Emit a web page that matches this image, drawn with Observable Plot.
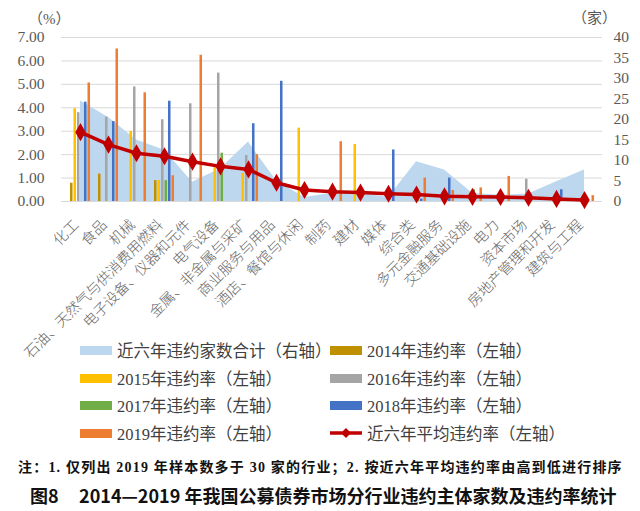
<!DOCTYPE html>
<html><head><meta charset="utf-8">
<script src="https://cdn.jsdelivr.net/npm/d3@7"></script>
<script src="https://cdn.jsdelivr.net/npm/@observablehq/plot@0.6"></script>
<style>
body{margin:0;background:#fff;}
#wrap{position:relative;width:640px;height:511px;overflow:hidden;font-family:"Liberation Serif","Noto Sans CJK SC",serif;}
#chart{position:absolute;left:0;top:0;}
.unit{position:absolute;font-size:15px;color:#595959;}
.lg{position:absolute;display:flex;align-items:center;font-size:16.5px;color:#404040;white-space:nowrap;height:20px;}
.sw{width:32px;height:9px;margin-right:5px;flex:none;}
.swl{width:32px;height:12px;margin-right:5px;flex:none;position:relative;}
.note{position:absolute;left:18px;top:456px;font-size:14px;letter-spacing:1.2px;font-weight:bold;color:#111;white-space:nowrap;}
.title{position:absolute;left:30px;top:482px;font-size:18px;font-weight:bold;color:#111;white-space:nowrap;font-family:"Noto Sans CJK SC","Liberation Sans",sans-serif;}
</style>
</head><body>
<div id="wrap">
<div id="chart"></div>
<div class="unit" style="left:28px;top:7px;">（%）</div>
<div class="unit" style="left:572px;top:6px;">（家）</div>
<div id="legend"></div>
<div class="note">注：1. 仅列出 2019 年样本数多于 30 家的行业；2. 按近六年平均违约率由高到低进行排序</div>
<div class="title">图8&nbsp;&nbsp;&nbsp;&nbsp;&nbsp;2014—2019 年我国公募债券市场分行业违约主体家数及违约率统计</div>
</div>
<script>
const categories = ["化工","食品","机械","石油、天然气与供消费用燃料","电子设备、仪器和元件","电气设备","金属、非金属与采矿","商业服务与用品","酒店、餐馆与休闲","制药","建材","媒体","综合类","多元金融服务","交通基础设施","电力","资本市场","房地产管理和开发","建筑与工程"];
// 近六年违约家数合计（右轴，家）
const defaultCounts = [24.5,20.5,15,12.5,4.7,8,14.5,5,1,2,2,1,9.7,7.7,2,1.5,1.8,4.8,7.7];
// 近六年平均违约率（左轴，%）
const avgRate = [2.96,2.43,2.06,1.93,1.70,1.50,1.37,0.80,0.49,0.42,0.38,0.33,0.30,0.22,0.20,0.19,0.16,0.11,0.06];
const rate2014 = [0.78,1.17,null,0.89,null,null,null,null,null,null,null,null,null,null,null,null,null,null,null];
const rate2015 = [3.96,null,2.99,0.90,null,1.50,1.20,null,3.13,null,2.43,null,null,null,null,null,null,null,null];
const rate2016 = [3.79,3.60,4.89,3.49,4.17,5.48,1.96,null,null,null,null,null,null,null,null,null,0.95,null,null];
const rate2017 = [null,null,null,0.89,null,2.06,null,null,null,null,null,null,0.25,null,0.50,null,null,null,null];
const rate2018 = [4.24,3.41,null,4.28,null,null,3.32,5.13,null,null,null,2.20,0.10,1.00,null,null,null,0.50,null];
const rate2019 = [5.06,6.51,4.64,1.10,6.24,null,2.00,null,null,2.55,null,null,1.00,0.47,0.58,1.07,null,null,0.25];
const years = ["2014","2015","2016","2017","2018","2019"];
const leftTicks = [0,1,2,3,4,5,6,7];
const rightTicks = [0,5,10,15,20,25,30,35,40];

const yearRates = [rate2014,rate2015,rate2016,rate2017,rate2018,rate2019];
const yearColors = ["#BF9000","#FFC000","#A5A5A5","#70AD47","#4472C4","#ED7D31"];
const areaColor = "#bdd7ee";
const lineColor = "#C00000";
const W = 640, H = 350, ML = 61, MR = 38, MT = 37, MB = 149;
const bandW = (W - ML - MR) / categories.length;
const barW = 3, step = 3.5;
const k = 7 / 40; // right axis -> left axis

const areaData = categories.map((c,i)=>({cat:c, v:defaultCounts[i]*k}));
const lineData = categories.map((c,i)=>({cat:c, v:avgRate[i]}));

const marks = [
  Plot.gridY(leftTicks.slice(1), {stroke:"#d9d9d9", strokeOpacity:1, strokeWidth:1}),
  Plot.areaY(areaData, {x:"cat", y:"v", fill:areaColor, curve:"linear"}),
  Plot.ruleY([0], {stroke:"#d9d9d9", strokeWidth:1}),
  ...yearRates.map((arr,j)=>Plot.barY(
      categories.map((c,i)=>({cat:c, v:arr[i]})).filter(d=>d.v!=null),
      {x:"cat", y:"v", fill:yearColors[j], dx:(j-2.5)*step,
       insetLeft:(bandW-barW)/2, insetRight:(bandW-barW)/2})),
  Plot.line(lineData, {x:"cat", y:"v", stroke:lineColor, strokeWidth:3.5}),
  Plot.dot(lineData, {x:"cat", y:"v", symbol:"diamond", fill:lineColor, r:5.5}),
  Plot.axisY(leftTicks, {anchor:"left", tickSize:0, tickPadding:17, tickFormat:d3.format(".2f"),
       fontSize:15.5, fill:"#595959", label:null, fontFamily:"Liberation Serif"}),
  Plot.axisY(rightTicks.map(d=>d*k), {anchor:"right", tickSize:0, tickPadding:11,
       tickFormat:d=>String(Math.round(d/k)), fontSize:15.5, fill:"#595959", label:null, fontFamily:"Liberation Serif"}),
  Plot.axisX({tickRotate:-45, tickSize:0, tickPadding:14, dx:-4, dy:7, fontSize:14.5, fill:"#666",
       label:null, fontFamily:"Noto Sans CJK SC", fontWeight:300})
];

const chart = Plot.plot({
  width:W, height:H, marginLeft:ML, marginRight:MR, marginTop:MT, marginBottom:MB,
  x:{type:"band", domain:categories, padding:0},
  y:{domain:[0,7]},
  style:{background:"transparent", overflow:"visible"},
  marks
});
document.getElementById("chart").appendChild(chart);

// legend
const legendItems = [
  {label:"近六年违约家数合计（右轴）", color:areaColor, type:"area"},
  {label:"2014年违约率（左轴）", color:yearColors[0]},
  {label:"2015年违约率（左轴）", color:yearColors[1]},
  {label:"2016年违约率（左轴）", color:yearColors[2]},
  {label:"2017年违约率（左轴）", color:yearColors[3]},
  {label:"2018年违约率（左轴）", color:yearColors[4]},
  {label:"2019年违约率（左轴）", color:yearColors[5]},
  {label:"近六年平均违约率（左轴）", color:lineColor, type:"line"}
];
const rowY = [340,368,395,423];
const colX = [80,330];
const lg = document.getElementById("legend");
legendItems.forEach((it,i)=>{
  const d = document.createElement("div");
  d.className = "lg";
  d.style.left = colX[i%2]+"px";
  d.style.top = rowY[Math.floor(i/2)]+"px";
  let sw;
  if (it.type==="line") {
    sw = `<svg class="swl" width="32" height="12"><line x1="0" y1="6" x2="32" y2="6" stroke="${it.color}" stroke-width="3.5"/><path d="M16,1 L21,6 L16,11 L11,6Z" fill="${it.color}"/></svg>`;
  } else {
    sw = `<span class="sw" style="background:${it.color}"></span>`;
  }
  d.innerHTML = sw + `<span>${it.label}</span>`;
  lg.appendChild(d);
});
</script>
</body></html>
